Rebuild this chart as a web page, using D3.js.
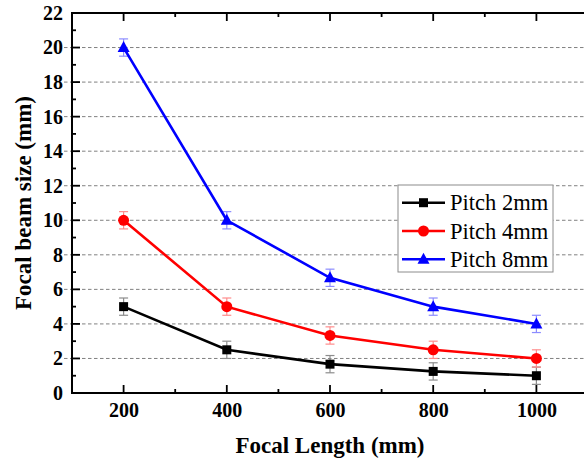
<!DOCTYPE html>
<html><head><meta charset="utf-8">
<script src="https://cdn.jsdelivr.net/npm/d3@7"></script>
<style>body{margin:0;background:#fff}svg{display:block}</style>
</head><body><svg id="c" width="584" height="463"></svg>
<script>
const focalLengths = [200, 400, 600, 800, 1000];
const pitch2 = [5, 2.5, 1.67, 1.25, 1.0];
const pitch4 = [10, 5, 3.33, 2.5, 2.0];
const pitch8 = [20, 10, 6.67, 5, 4.0];
const errors2 = [0.5, 0.5, 0.5, 0.5, 0.5];
const errors4 = [0.5, 0.5, 0.5, 0.5, 0.5];
const errors8 = [0.5, 0.5, 0.5, 0.5, 0.5];
const seriesNames = ["Pitch 2mm", "Pitch 4mm", "Pitch 8mm"];
const xTicks = [200, 400, 600, 800, 1000];
const yTicks = [0, 2, 4, 6, 8, 10, 12, 14, 16, 18, 20, 22];

const series = [
  {name: seriesNames[0], values: pitch2, err: errors2, color: "#000000", ecolor: "#8c8c8c", shape: "square"},
  {name: seriesNames[1], values: pitch4, err: errors4, color: "#ff0000", ecolor: "#ff8c8c", shape: "circle"},
  {name: seriesNames[2], values: pitch8, err: errors8, color: "#0000ff", ecolor: "#8c8cff", shape: "triangle"}
];

const FONT = '"Liberation Serif"';
const svg = d3.select("#c");
const x = d3.scaleLinear().domain([100, 1100]).range([72, 588]);
const y = d3.scaleLinear().domain([0, 22]).range([393, 13]);

// grid lines
svg.append("g").selectAll("line").data(yTicks.filter(v => v > 0 && v < 22)).join("line")
  .attr("x1", 64).attr("x2", 584).attr("y1", d => y(d)).attr("y2", d => y(d))
  .attr("stroke", "#808080").attr("stroke-width", 1).attr("stroke-dasharray", "3.5,2.5");

// axes
const minorX = d3.range(100, 1101, 100);
const minorY = d3.range(0, 23, 1);
const bottom = svg.append("g").attr("transform", `translate(0,${y(0)})`)
  .call(d3.axisBottom(x).tickValues(xTicks).tickFormat(d3.format("d")).tickSize(0).tickPadding(10));
bottom.select(".domain").remove();
bottom.selectAll("text").style("font-family", FONT).attr("font-weight", "bold").attr("font-size", 20).attr("fill", "#000");

const left = svg.append("g").attr("transform", `translate(${x(100)},0)`)
  .call(d3.axisLeft(y).tickValues(yTicks).tickFormat(d3.format("d")).tickSize(0).tickPadding(9));
left.select(".domain").remove();
left.selectAll("text").style("font-family", FONT).attr("font-weight", "bold").attr("font-size", 20).attr("fill", "#000");

const tk = svg.append("g").attr("stroke", "#000").attr("stroke-width", 1.8);
minorX.forEach(v => {
  const len = xTicks.includes(v) ? 8 : 4;
  tk.append("line").attr("x1", x(v)).attr("x2", x(v)).attr("y1", y(0)).attr("y2", y(0) - len);
  tk.append("line").attr("x1", x(v)).attr("x2", x(v)).attr("y1", y(22)).attr("y2", y(22) + len);
});
minorY.forEach(v => {
  const len = yTicks.includes(v) ? 8 : 4;
  tk.append("line").attr("x1", x(100)).attr("x2", x(100) + len).attr("y1", y(v)).attr("y2", y(v));
});
svg.append("rect").attr("x", x(100)).attr("y", y(22)).attr("width", x(1100) - x(100)).attr("height", y(0) - y(22))
  .attr("fill", "none").attr("stroke", "#000").attr("stroke-width", 2);

// axis titles
svg.append("text").attr("x", 330).attr("y", 453).attr("text-anchor", "middle").style("font-family", FONT)
  .attr("font-weight", "bold").attr("font-size", 23).text("Focal Length (mm)");
svg.append("text").attr("transform", `translate(31,${y(11)}) rotate(-90)`).attr("text-anchor", "middle").style("font-family", FONT)
  .attr("font-weight", "bold").attr("font-size", 23).text("Focal beam size (mm)");

function marker(g, shape, color, cx, cy) {
  if (shape === "square") g.append("rect").attr("x", cx - 4.5).attr("y", cy - 4.5).attr("width", 9).attr("height", 9).attr("fill", color);
  else if (shape === "circle") g.append("circle").attr("cx", cx).attr("cy", cy).attr("r", 5.5).attr("fill", color);
  else g.append("path").attr("d", `M${cx},${cy - 6.5}L${cx + 6},${cy + 4.5}L${cx - 6},${cy + 4.5}Z`).attr("fill", color);
}

const line = d3.line().x((d, i) => x(focalLengths[i])).y(d => y(d));
series.forEach(s => {
  const g = svg.append("g");
  s.values.forEach((v, i) => {
    const cx = x(focalLengths[i]);
    const e = g.append("g").attr("stroke", s.ecolor).attr("stroke-width", 1.2);
    e.append("line").attr("x1", cx).attr("x2", cx).attr("y1", y(v - s.err[i])).attr("y2", y(v + s.err[i]));
    e.append("line").attr("x1", cx - 4.5).attr("x2", cx + 4.5).attr("y1", y(v - s.err[i])).attr("y2", y(v - s.err[i]));
    e.append("line").attr("x1", cx - 4.5).attr("x2", cx + 4.5).attr("y1", y(v + s.err[i])).attr("y2", y(v + s.err[i]));
  });
  g.append("path").attr("d", line(s.values)).attr("fill", "none").attr("stroke", s.color).attr("stroke-width", 2.6);
  s.values.forEach((v, i) => marker(g, s.shape, s.color, x(focalLengths[i]), y(v)));
});

// legend
const lg = svg.append("g");
lg.append("rect").attr("x", 398).attr("y", 185).attr("width", 155).attr("height", 87)
  .attr("fill", "#fff").attr("stroke", "#8c8c8c").attr("stroke-width", 1);
series.forEach((s, i) => {
  const cy = 202.7 + i * 28.3;
  lg.append("line").attr("x1", 402).attr("x2", 445).attr("y1", cy).attr("y2", cy).attr("stroke", s.color).attr("stroke-width", 2.6);
  marker(lg, s.shape, s.color, 423.5, cy);
  lg.append("text").attr("x", 450).attr("y", cy + 7.5).style("font-family", FONT).attr("font-size", 22.5).text(s.name);
});
</script></body></html>
